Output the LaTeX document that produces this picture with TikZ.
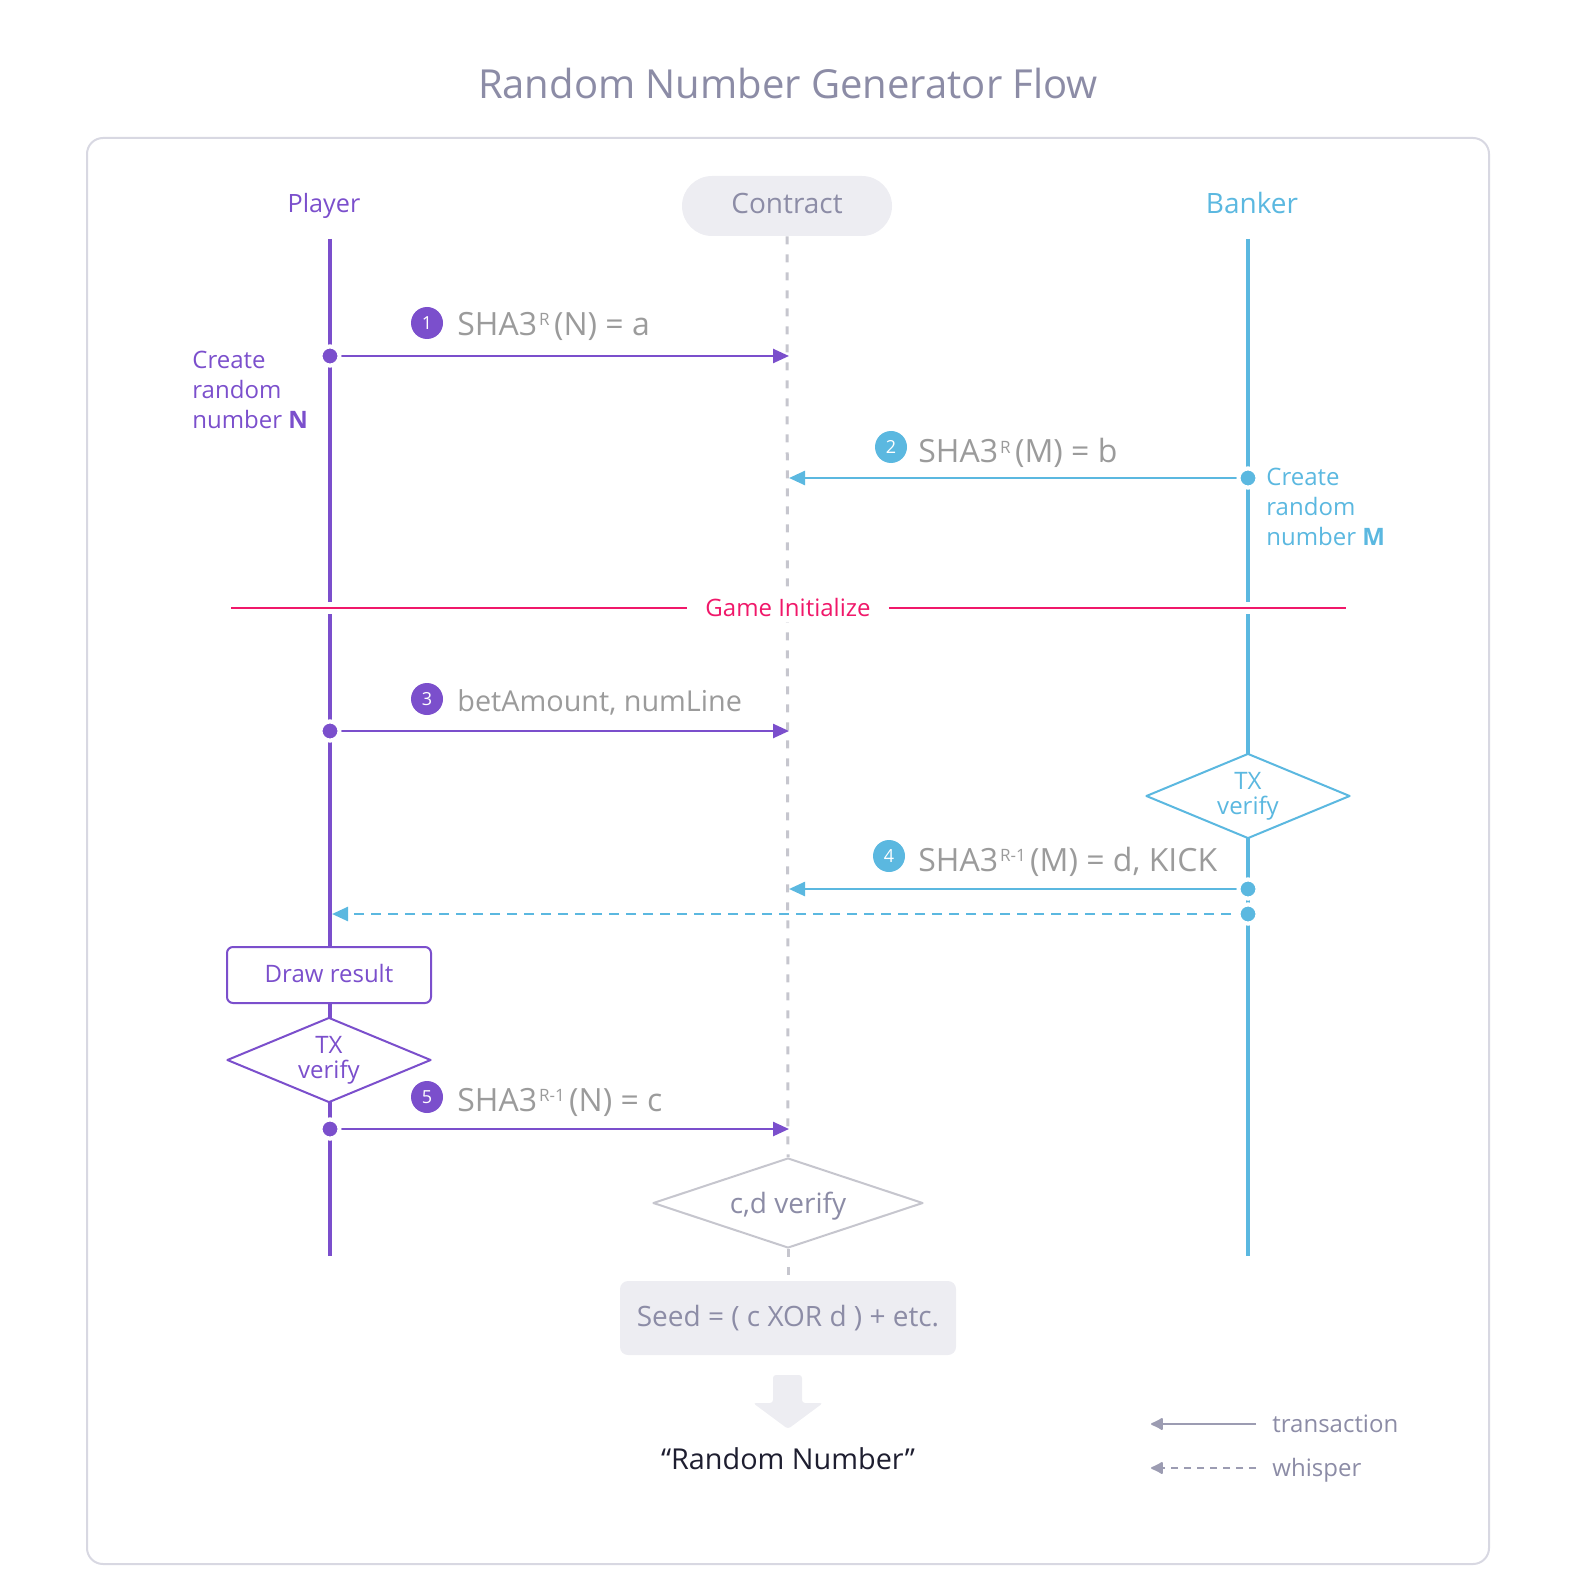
\documentclass[tikz,border=0pt]{standalone}
\usepackage{fontspec}
\setmainfont{Open Sans}
\usetikzlibrary{arrows.meta,shapes.geometric}
\definecolor{pur}{HTML}{7B4FCC}
\definecolor{blu}{HTML}{5BB8E0}
\definecolor{crim}{HTML}{F0186A}
\definecolor{gtxt}{HTML}{9B9B9B}
\definecolor{ptxt}{HTML}{8C8CA6}
\definecolor{framec}{HTML}{D8D8E2}
\definecolor{pillc}{HTML}{EDEDF2}
\definecolor{dashc}{HTML}{C6C6CE}
\definecolor{darkc}{HTML}{1E1E30}
\definecolor{legc}{HTML}{9C9CB2}
\newcommand{\supx}[1]{\hspace{1pt}\raisebox{5pt}{\fontsize{8.5}{9}\selectfont #1}\hspace{2.2pt}}
\tikzset{
  lifeP/.style={draw=pur, line width=2pt},
  lifeB/.style={draw=blu, line width=2pt},
  dotP/.style={circle, fill=pur, draw=white, line width=2pt, minimum size=9.5pt, inner sep=0pt},
  dotB/.style={circle, fill=blu, draw=white, line width=2pt, minimum size=9.5pt, inner sep=0pt},
  msgP/.style={draw=pur, line width=1.25pt, -{Triangle[length=8pt,width=7pt]}},
  msgB/.style={draw=blu, line width=1.25pt, -{Triangle[length=8pt,width=7pt]}},
  whisperB/.style={msgB, dash pattern=on 5pt off 3.5pt},
  badgeP/.style={circle, fill=pur, text=white, minimum size=16pt, inner sep=0pt, font=\fontsize{9}{9}\selectfont},
  badgeB/.style={circle, fill=blu, text=white, minimum size=16pt, inner sep=0pt, font=\fontsize{9}{9}\selectfont},
  msgtxt/.style={text=gtxt, font=\fontsize{16}{18}\selectfont, inner sep=0pt, anchor=base west},
  notetxt/.style={font=\fontsize{12}{15}\selectfont, inner sep=0pt, anchor=base west, align=left},
  actor/.style={inner sep=0pt, anchor=base},
  diamP/.style={diamond, aspect=2.4, draw=pur, fill=white, line width=1pt, line join=round, text=pur, align=center,
     font=\fontsize{12}{12.5}\selectfont, inner sep=0pt, minimum width=102pt, minimum height=42.5pt},
  diamB/.style={diamP, draw=blu, text=blu},
  diamG/.style={diamond, aspect=3, draw=dashc, fill=white, line width=1pt, line join=round, text=ptxt,
     font=\fontsize{14}{17}\selectfont, text depth=0pt, inner sep=0pt, minimum width=135pt, minimum height=45pt},
  boxP/.style={draw=pur, fill=white, line width=1pt, rounded corners=3pt, text=pur, text depth=2pt,
     font=\fontsize{12}{15}\selectfont, minimum width=102pt, minimum height=28pt, inner sep=0pt},
  contractdash/.style={draw=dashc, line width=1.5pt, dash pattern=on 4pt off 5pt},
  legline/.style={draw=legc, line width=1pt, -{Latex[length=7pt,width=7pt,round]}},
  legtxt/.style={text=ptxt, font=\fontsize{12}{15}\selectfont, inner sep=0pt, anchor=base west}
}
\begin{document}
\begin{tikzpicture}[x=0.5pt,y=-0.5pt]
\useasboundingbox (0,0) rectangle (1576,1588);
% frame
\draw[framec, line width=1pt, rounded corners=8pt] (87,138) rectangle (1489,1564);
% title
\node[font=\fontsize{20}{24}\selectfont, text=ptxt, anchor=base, inner sep=0pt] (title) at (788,99) {Random Number Generator Flow};
% actors
\node[actor, text=pur, font=\fontsize{12.6}{15}\selectfont] (player) at (324,213) {Player};
\node[fill=pillc, rounded corners=15pt, minimum width=105pt, minimum height=30pt, text=ptxt, text depth=2.4pt,
      font=\fontsize{14}{16}\selectfont, inner sep=0pt] (contract) at (787,206) {Contract};
\node[actor, text=blu, font=\fontsize{14}{16}\selectfont] (banker) at (1252,214) {Banker};
% lifelines
\coordinate (pTop) at (330,239); \coordinate (pBot) at (330,1256);
\coordinate (bTop) at (1248,239); \coordinate (bBot) at (1248,1256);
\draw[lifeP] (pTop) -- (pBot);
\draw[lifeB] (bTop) -- (bBot);
% contract lifeline and verification nodes
\node[diamG] (cdv) at (788,1203) {c,d verify};
\node[fill=pillc, rounded corners=4pt, minimum width=168pt, minimum height=37pt, text=ptxt,
      font=\fontsize{14}{17}\selectfont, inner sep=0pt] (seed) at (788,1318) {Seed = ( c XOR d ) + etc.};
\draw[contractdash] (contract.south) -- (cdv.north);
\draw[contractdash] (cdv.south) -- (seed.north);
% game initialize
\draw[white, line width=6pt] (231,608) -- (1346,608);
\node[text=crim, fill=white, font=\fontsize{12}{15}\selectfont, inner xsep=9pt, inner ysep=3pt] (gi) at (788,607) {Game Initialize};
\coordinate (gL) at (231,608); \coordinate (gR) at (1346,608);
\draw[crim, line width=1pt] (gL) -- (gL -| gi.west);
\draw[crim, line width=1pt] (gR -| gi.east) -- (gR);
% player boxes
\node[boxP] (dr) at (329,975) {Draw result};
\node[diamP] (txp) at (329,1060) {TX\\verify};
\node[diamB] (txb) at (1248,796) {TX\\verify};
% coordinates on contract line
\coordinate (c1) at (789,356);
\coordinate (c2) at (789,478);
\coordinate (c3) at (789,731);
\coordinate (c4) at (789,889);
\coordinate (c5) at (789,1129);
\coordinate (w4) at (332,914);
% dots
\node[dotP] (pd1) at (330,356) {};
\node[dotP] (pd3) at (330,731) {};
\node[dotP] (pd5) at (330,1129) {};
\node[dotB] (bd2) at (1248,478) {};
\node[dotB] (bd4) at (1248,889) {};
\node[dotB] (bd4w) at (1248,914) {};
% messages
\draw[msgP] (pd1.center) -- (c1);
\draw[msgB] (bd2.center) -- (c2);
\draw[msgP] (pd3.center) -- (c3);
\draw[msgB] (bd4.center) -- (c4);
\draw[whisperB] (bd4w.center) -- (w4);
\draw[msgP] (pd5.center) -- (c5);
\node[dotP] at (pd1) {};
\node[dotP] at (pd3) {};
\node[dotP] at (pd5) {};
\node[dotB] at (bd2) {};
\node[dotB] at (bd4) {};
\node[dotB] at (bd4w) {};
% labels
\node[badgeP] (b1) at (427,323) {1};
\node[msgtxt] (m1) at (457,336) {SHA3\supx{R}(N) = a};
\node[badgeB] (b2) at (891,447) {2};
\node[msgtxt] (m2) at (918,463) {SHA3\supx{R}(M) = b};
\node[badgeP] (b3) at (427,699) {3};
\node[msgtxt, font=\fontsize{14.4}{17}\selectfont] (m3) at (457,711) {betAmount, numLine};
\node[badgeB] (b4) at (889,856) {4};
\node[msgtxt] (m4) at (918,871) {SHA3\supx{R-1}(M) = d, KICK};
\node[badgeP] (b5) at (427,1097) {5};
\node[msgtxt] (m5) at (457,1111) {SHA3\supx{R-1}(N) = c};
% notes
\node[notetxt, text=pur] (nN) at (192,429) {Create\\random\\number \textbf{N}};
\node[notetxt, text=blu] (nM) at (1266,545) {Create\\random\\number \textbf{M}};
% result arrow
\fill[pillc, rounded corners=1.5pt] (773,1375) -- (802,1375) -- (802,1403) -- (823,1403) -- (788,1429) -- (753,1403) -- (773,1403) -- cycle;
\node[font=\fontsize{14.4}{17}\selectfont, text=darkc, inner sep=0pt] (rn) at (788,1459) {“Random Number”};
% legend
\coordinate (lt1) at (1256,1424); \coordinate (lt2) at (1151,1424);
\coordinate (lw1) at (1256,1468); \coordinate (lw2) at (1151,1468);
\draw[legline] (lt1) -- (lt2);
\draw[legline, dash pattern=on 3.5pt off 3pt] (lw1) -- (lw2);
\node[legtxt] (lgt) at (1272,1432) {transaction};
\node[legtxt] (lgw) at (1272,1476) {whisper};
\end{tikzpicture}
\end{document}
